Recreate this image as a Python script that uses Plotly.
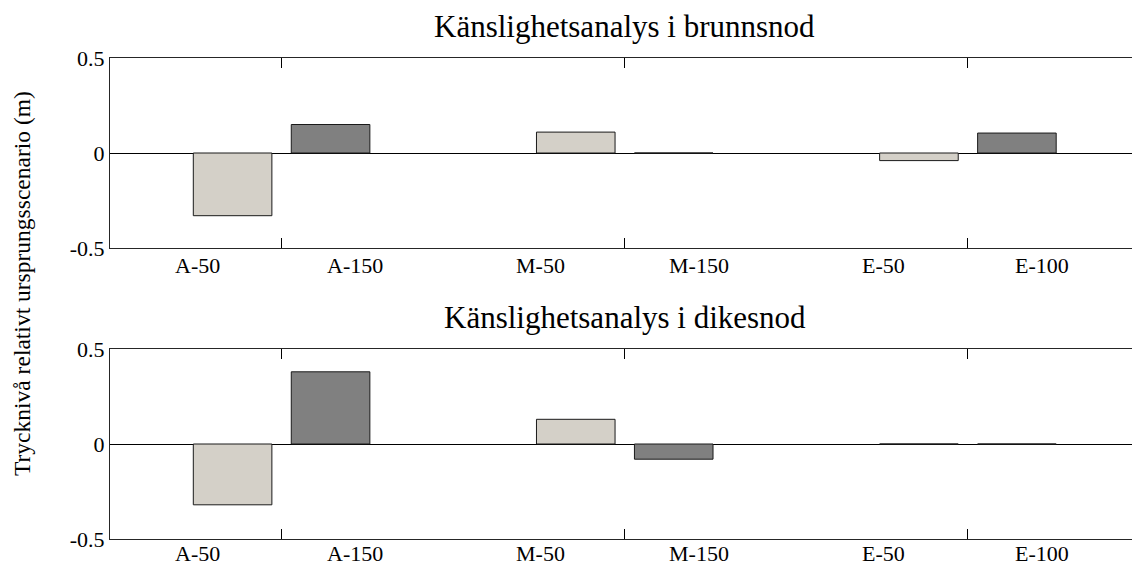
import plotly.graph_objects as go

# ---- data ----
groups = [1, 2, 3]                       # A, M, E
labels = ["A-50", "A-150", "M-50", "M-150", "E-50", "E-100"]
titles = ["Känslighetsanalys i brunnsnod", "Känslighetsanalys i dikesnod"]
ylabel = "Trycknivå relativt ursprungsscenario (m)"

brunn_low = [-0.33, 0.11, -0.04]   # A-50, M-50, E-50
brunn_high = [0.15, 0.0, 0.105]    # A-150, M-150, E-100
dike_low = [-0.32, 0.13, 0.0]
dike_high = [0.38, -0.08, 0.0]

y_ticks = [-0.5, 0, 0.5]
y_ticktext = ["-0.5", "0", "0.5"]

# ---- style ----
LIGHT = "#D4D0C8"
DARK = "#808080"
AX = "#262626"
FONT = "'Liberation Serif', 'Times New Roman', Times, serif"
W, H = 1132, 566
ML, MT, MB = 110, 58, 27
label_offsets = [-0.245, 0.215]
label_shift = [-4, -1]

fig = go.Figure()
for row, (low, high) in enumerate([(brunn_low, brunn_high), (dike_low, dike_high)]):
    xa = "x" if row == 0 else "x2"
    ya = "y" if row == 0 else "y2"
    for vals, col in [(low, LIGHT), (high, DARK)]:
        fig.add_trace(go.Bar(x=groups, y=vals, marker=dict(color=col, line=dict(color="#1a1a1a", width=1)),
                             xaxis=xa, yaxis=ya, showlegend=False, hoverinfo="skip"))

plot_h = H - MT - MB
top_dom = [(539 - 248) / plot_h, 1.0]
bot_dom = [0.0, (539 - 349) / plot_h]

xr = [0.5, 3.5 - 7.5 / 343]
axis_common = dict(range=xr, tickvals=groups, showticklabels=False, ticks="inside", ticklen=10,
                   tickcolor="black", showline=True, linecolor=AX, linewidth=1, mirror="ticks",
                   showgrid=False, zeroline=False)
yaxis_common = dict(range=[-0.5, 0.5], tickvals=y_ticks, ticktext=y_ticktext, ticks="inside", ticklen=10,
                    tickcolor="black", showline=True, linecolor=AX, linewidth=1, showgrid=False,
                    zeroline=True, zerolinecolor="black", zerolinewidth=1,
                    tickfont=dict(family=FONT, size=22, color="black"))

fig.update_layout(
    width=W, height=H, margin=dict(l=ML, r=0, t=MT, b=MB),
    paper_bgcolor="white", plot_bgcolor="white",
    barmode="group", bargap=0.429, bargroupgap=0.198,
    xaxis=dict(domain=[0, 1], anchor="y", **axis_common),
    yaxis=dict(domain=top_dom, anchor="x", **yaxis_common),
    xaxis2=dict(domain=[0, 1], anchor="y2", **axis_common),
    yaxis2=dict(domain=bot_dom, anchor="x2", **yaxis_common),
    font=dict(family=FONT, color="black"),
)

annotations = []
for row, (xref, yref) in enumerate([("x", "y domain"), ("x2", "y2 domain")]):
    for i, g in enumerate(groups):
        for j in range(2):
            annotations.append(dict(x=g + label_offsets[j], y=0, xref=xref, yref=yref,
                                    text=labels[2 * i + j], showarrow=False, yanchor="top",
                                    yshift=label_shift[row], borderpad=0,
                                    font=dict(family=FONT, size=22, color="black")))
    annotations.append(dict(x=groups[1], y=1, xref=xref, yref=yref, text=titles[row], showarrow=False,
                            yanchor="bottom", yshift=12, font=dict(family=FONT, size=31, color="black")))

annotations.append(dict(x=(22 - ML) / (W - ML), y=(539 - 284) / plot_h, xref="paper", yref="paper",
                        text=ylabel, textangle=-90, showarrow=False, xanchor="center", yanchor="middle",
                        font=dict(family=FONT, size=23.5, color="black")))
fig.update_layout(annotations=annotations)

fig.write_html("out.html")
